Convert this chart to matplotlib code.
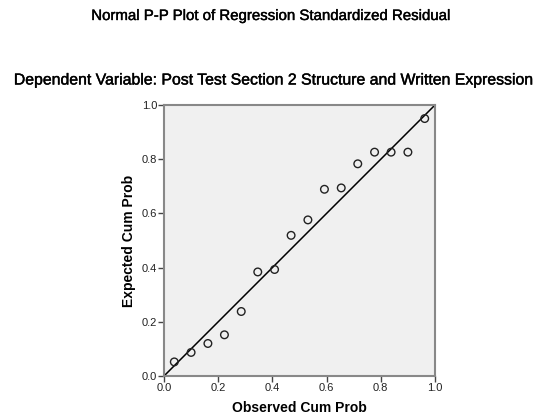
import matplotlib
matplotlib.use("Agg")
import matplotlib.pyplot as plt
import matplotlib.patheffects as pe

observed = [0.038, 0.100, 0.162, 0.223, 0.285, 0.346, 0.408, 0.469,
            0.531, 0.592, 0.654, 0.715, 0.777, 0.838, 0.900, 0.962]
expected = [0.052, 0.087, 0.120, 0.152, 0.238, 0.384, 0.393, 0.519,
            0.576, 0.689, 0.694, 0.783, 0.826, 0.826, 0.826, 0.950]
ticks = [0.0, 0.2, 0.4, 0.6, 0.8, 1.0]
tick_labels = ["0.0", "0.2", "0.4", "0.6", "0.8", "1.0"]
ref_line = [0.0, 1.0]

plt.rcParams['font.family'] = ['Liberation Sans', 'DejaVu Sans']

fig = plt.figure(figsize=(5.38, 4.18), dpi=100)
ax = fig.add_axes([164/538, 42/418, 271/538, 271/418])
ax.set_facecolor("#f0f0f0")
ax.plot(ref_line, ref_line, color="black", lw=1.1, zorder=2)
ax.scatter(observed, expected, s=30, facecolors="none", edgecolors="#222222",
           linewidths=1.0, zorder=3, clip_on=False)
ax.set_xlim(0, 1)
ax.set_ylim(0, 1)
ax.set_xticks(ticks)
ax.set_xticklabels(tick_labels)
ax.set_yticks(ticks)
ax.set_yticklabels(tick_labels)
ax.tick_params(length=4, width=1, color="#444444", labelsize=8, pad=1,
               labelcolor="#222222")
for s in ax.spines.values():
    s.set_color("#888888")
    s.set_linewidth(1.5)

ax.set_xlabel("Observed Cum Prob", fontsize=10, fontweight="bold", labelpad=6)
ax.set_ylabel("Expected Cum Prob", fontsize=10, fontweight="bold", labelpad=4)

heavy = [pe.withStroke(linewidth=0.3, foreground="black")]
fig.text(271/538, 1 - 16/418, "Normal P-P Plot of Regression Standardized Residual",
         ha="center", va="center", fontsize=10.8, path_effects=heavy)
fig.text(274/538, 1 - 80/418, "Dependent Variable: Post Test Section 2 Structure and Written Expression",
         ha="center", va="center", fontsize=11.4, path_effects=heavy)

fig.savefig("out.png", dpi=100)
